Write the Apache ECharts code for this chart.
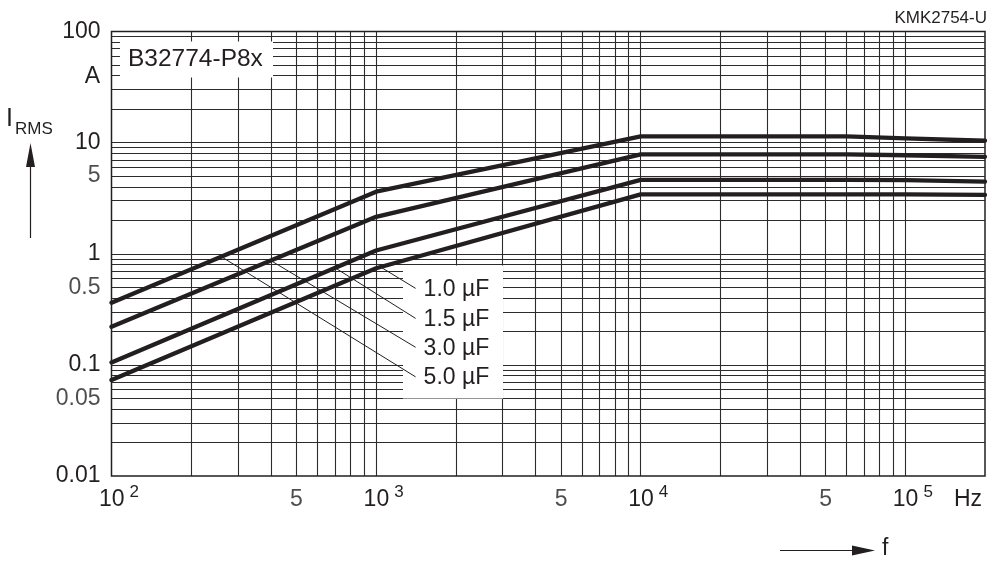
<!DOCTYPE html>
<html>
<head>
<meta charset="utf-8">
<script src="https://cdn.jsdelivr.net/npm/echarts@6/dist/echarts.min.js"></script>
<style>
  html, body { margin: 0; padding: 0; background: #fff; }
  #chart { width: 988px; height: 563px; }
</style>
</head>
<body>
<div id="chart"></div>
<script>
// Frequency breakpoints (Hz) shared by all current curves
const freqHz = [100, 1000, 10000, 60000, 100000, 200000];
// Permissible RMS current (A) per capacitance
const cap1_0uF = [0.073, 0.74, 3.42, 3.42, 3.42, 3.38];
const cap1_5uF = [0.105, 1.07, 4.62, 4.62, 4.6, 4.45];
const cap3_0uF = [0.22, 2.15, 7.85, 7.85, 7.7, 7.45];
const cap5_0uF = [0.362, 3.62, 11.4, 11.4, 10.9, 10.4];
const capNames = ['1.0 µF', '1.5 µF', '3.0 µF', '5.0 µF'];

// Leader lines: where each one leaves its curve, and where its label sits
const leaderFromHz = [1040, 700, 400, 260];
const leaderToHz = 1410;
const leaderToA = [0.488, 0.262, 0.144, 0.078];

// Tick labels
const yMajorText = ['0.01', '0.1', '1', '10', '100'];
const xMidTicksHz = [500, 5000, 50000];
const xMidText = ['5', '5', '5'];
const yMidTicksA = [5, 0.5, 0.05];
const yMidText = ['5', '0.5', '0.05'];

// Log grid: 1..9 in every decade
const mantissas = [1, 2, 3, 4, 5, 6, 7, 8, 9];
const gridFreq = [];
[100, 1000, 10000].forEach(d => mantissas.forEach(m => { if (d * m > 100) gridFreq.push(d * m); }));
gridFreq.push(100000);
const gridCurrent = [];
[0.01, 0.1, 1, 10].forEach(d => mantissas.forEach(m => { if (d * m > 0.01) gridCurrent.push(+(d * m).toPrecision(3)); }));

const INK = '#231f20';
const FONT = '"Liberation Sans", Arial, Helvetica, sans-serif';

const curves = [cap1_0uF, cap1_5uF, cap3_0uF, cap5_0uF];

// log-log interpolation along a curve
function currentAt(values, f) {
  const lf = Math.log10(f);
  for (let i = 0; i < freqHz.length - 1; i++) {
    const a = Math.log10(freqHz[i]), b = Math.log10(freqHz[i + 1]);
    if (lf >= a && lf <= b) {
      const t = (lf - a) / (b - a);
      return Math.pow(10, Math.log10(values[i]) + t * (Math.log10(values[i + 1]) - Math.log10(values[i])));
    }
  }
  return values[values.length - 1];
}

const series = [];

// grid lines
series.push({
  type: 'line', data: [], z: 1, silent: true,
  markLine: {
    silent: true, z: 1, symbol: ['none', 'none'], label: { show: false },
    lineStyle: { color: '#2b2b2b', width: 1.1, type: 'solid' },
    emphasis: { disabled: true },
    animation: false,
    data: gridFreq.map(v => ({ xAxis: v })).concat(gridCurrent.map(v => ({ yAxis: v })))
  }
});

// current curves
curves.forEach((vals, k) => {
  series.push({
    name: capNames[k], type: 'line', z: 30, silent: true,
    showSymbol: false, symbol: 'none',
    lineStyle: { color: INK, width: 4.3, cap: 'round', join: 'round' },
    data: freqHz.map((f, i) => [f, vals[i]])
  });
});

// leader lines with capacitance labels
curves.forEach((vals, k) => {
  series.push({
    name: 'leader ' + capNames[k], type: 'line', z: 31, silent: true,
    showSymbol: false, symbol: 'none',
    lineStyle: { color: INK, width: 1 },
    data: [[leaderFromHz[k], currentAt(vals, leaderFromHz[k])], [leaderToHz, leaderToA[k]]],
    endLabel: {
      show: true, formatter: capNames[k], distance: 8, offset: [0, 1],
      fontSize: 23, fontFamily: FONT, color: INK
    }
  });
});

// intermediate tick labels
series.push({
  type: 'scatter', z: 32, silent: true, symbolSize: 0, clip: false,
  itemStyle: { color: 'transparent' },
  data: xMidTicksHz.map((f, i) => ({ value: [f, 0.01], name: xMidText[i] })),
  label: { show: true, position: 'bottom', distance: 12, formatter: '{b}', fontSize: 23, fontFamily: FONT, color: INK }
});
series.push({
  type: 'scatter', z: 32, silent: true, symbolSize: 0, clip: false,
  itemStyle: { color: 'transparent' },
  data: yMidTicksA.map((a, i) => ({ value: [100, a], name: yMidText[i] })),
  label: { show: true, position: 'left', distance: 11, formatter: '{b}', fontSize: 23, fontFamily: FONT, color: INK }
});

const chart = echarts.init(document.getElementById('chart'), null, { renderer: 'canvas' });
chart.setOption({
  animation: false,
  backgroundColor: '#fff',
  grid: { left: 111.5, top: 31.5, width: 875, height: 444.5, show: true, borderColor: INK, borderWidth: 1.5, containLabel: false },
  xAxis: {
    type: 'log', logBase: 10, min: 100, max: 200000,
    axisLine: { show: false }, axisTick: { show: false }, splitLine: { show: false },
    axisLabel: {
      margin: 10, color: INK, fontFamily: FONT,
      formatter: v => {
        const e = Math.log10(v), n = Math.round(e);
        if (Math.abs(e - n) > 1e-6) return '';
        return '{b|10}{e|' + n + '}';
      },
      rich: {
        b: { fontSize: 23, lineHeight: 27, fontFamily: FONT, color: INK, padding: [0, 0, 0, 15] },
        e: { fontSize: 17, lineHeight: 17, fontFamily: FONT, color: INK, verticalAlign: 'middle', padding: [0, 0, 14, 5] }
      }
    }
  },
  yAxis: {
    type: 'log', logBase: 10, min: 0.01, max: 100,
    axisLine: { show: false }, axisTick: { show: false }, splitLine: { show: false },
    axisLabel: {
      margin: 11, fontSize: 23, color: INK, fontFamily: FONT,
      formatter: v => {
        const e = Math.log10(v), n = Math.round(e);
        if (Math.abs(e - n) > 1e-6) return '';
        return yMajorText[n + 2] || '';
      }
    }
  },
  graphic: [
    { type: 'rect', z: 20, shape: { x: 120, y: 41.5, width: 153, height: 36 }, style: { fill: '#fff' } },
    { type: 'text', z: 40, x: 128, y: 59.5, style: { text: 'B32774-P8x', font: '24.5px ' + FONT, fill: INK, textAlign: 'left', textVerticalAlign: 'middle', align: 'left', verticalAlign: 'middle' } },
    { type: 'rect', z: 20, shape: { x: 403, y: 265.5, width: 100, height: 133 }, style: { fill: '#fff' } },
    { type: 'text', z: 40, x: 987, y: 18, style: { text: 'KMK2754-U', font: '17px ' + FONT, fill: INK, textAlign: 'right', textVerticalAlign: 'middle', align: 'right', verticalAlign: 'middle' } },
    { type: 'text', z: 40, x: 100, y: 77, style: { text: 'A', font: '23px ' + FONT, fill: INK, textAlign: 'right', textVerticalAlign: 'middle', align: 'right', verticalAlign: 'middle' } },
    { type: 'text', z: 40, x: 954, y: 500, style: { text: 'Hz', font: '23px ' + FONT, fill: INK, textAlign: 'left', textVerticalAlign: 'middle', align: 'left', verticalAlign: 'middle' } },
    { type: 'text', z: 40, x: 6, y: 119, style: { text: 'I', font: '25px ' + FONT, fill: INK, textAlign: 'left', textVerticalAlign: 'middle', align: 'left', verticalAlign: 'middle' } },
    { type: 'text', z: 40, x: 15, y: 129, style: { text: 'RMS', font: '17px ' + FONT, fill: INK, textAlign: 'left', textVerticalAlign: 'middle', align: 'left', verticalAlign: 'middle' } },
    { type: 'line', z: 40, shape: { x1: 30.5, y1: 165, x2: 30.5, y2: 238 }, style: { stroke: INK, lineWidth: 1.2 } },
    { type: 'polygon', z: 40, shape: { points: [[26, 167], [35, 167], [30.5, 143]] }, style: { fill: INK } },
    { type: 'line', z: 40, shape: { x1: 780, y1: 550.5, x2: 854, y2: 550.5 }, style: { stroke: INK, lineWidth: 1.2 } },
    { type: 'polygon', z: 40, shape: { points: [[852, 545.5], [852, 555.5], [875, 550.5]] }, style: { fill: INK } },
    { type: 'text', z: 40, x: 882, y: 549, style: { text: 'f', font: '23px ' + FONT, fill: INK, textAlign: 'left', textVerticalAlign: 'middle', align: 'left', verticalAlign: 'middle' } }
  ],
  series: series
});
</script>
</body>
</html>
